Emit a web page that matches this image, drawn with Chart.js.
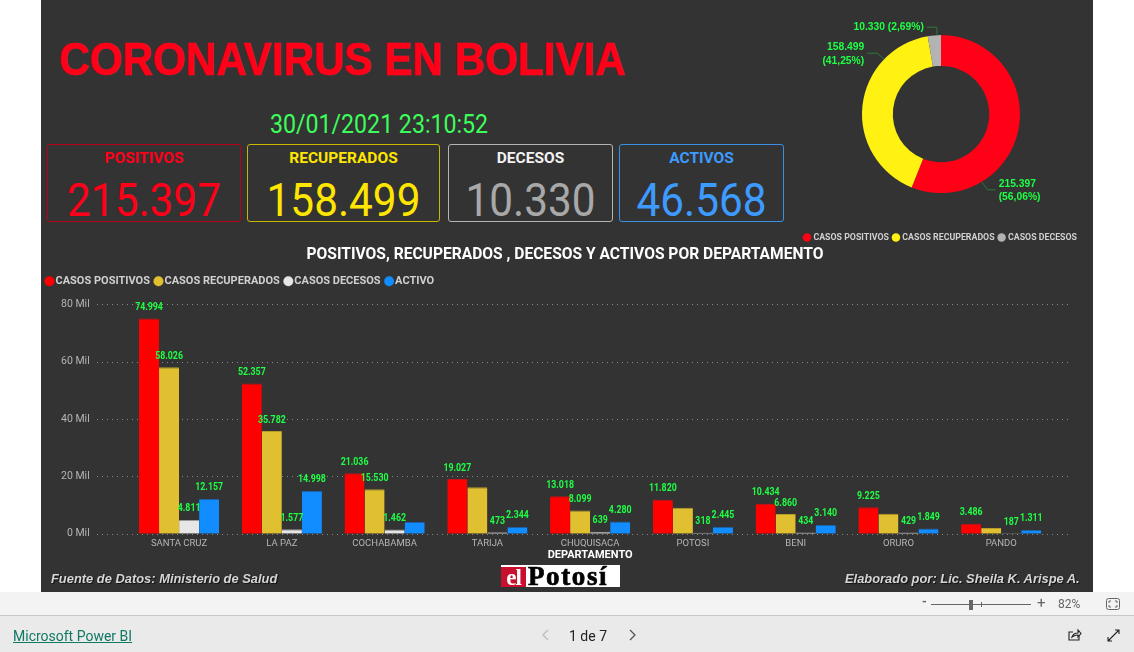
<!DOCTYPE html>
<html lang="es">
<head>
<meta charset="utf-8">
<title>Coronavirus en Bolivia</title>
<script src="https://cdn.jsdelivr.net/npm/chart.js@4"></script>
<style>
  * { box-sizing: border-box; }
  html, body { margin: 0; width: 1134px; height: 652px; overflow: hidden; background: #fff; font-family: Roboto, sans-serif; }
  .abs { position: absolute; white-space: nowrap; }
  #panel { position: absolute; left: 41px; top: 0; width: 1052px; height: 592px; background: #333; }
  #titulo { left: 59px; top: 31px; font: bold 46px/56px 'Liberation Sans', sans-serif; color: #ff0018; transform-origin: left; transform: scaleX(.917); -webkit-text-stroke: .5px #ff0018; }
  #fecha { left: 270px; top: 108px; font: 400 26px/32px Roboto, sans-serif; color: #3dff5c; transform-origin: left; transform: scaleX(.89); }
  .card { position: absolute; top: 144px; height: 78px; border: 1px solid; border-radius: 3px; text-align: center; }
  .card .lbl { position: absolute; left: 0; right: 0; top: 3px; font: bold 15.5px/20px Roboto, sans-serif; }
  .card .num { position: absolute; left: 0; right: 0; top: 29px; font: 400 46px/52px Roboto, sans-serif; transform: scaleX(.92); }
  #pie { position: absolute; left: 791px; top: 0; width: 300px; height: 252px; }
  #barras { position: absolute; left: 41px; top: 240px; width: 1048px; height: 338px; }
  .nota { font: italic bold 12.9px/16px 'Liberation Sans', sans-serif; color: #d6d6d6; text-shadow: 1px 1px 1px #111; }
  #logo { left: 501px; top: 565px; width: 119px; height: 22px; background: #fff; overflow: hidden; font: bold 27px/22px 'Liberation Serif', serif; color: #000; }
  #logo b { display: inline-block; width: 25px; height: 22px; background: #c8102e; color: #fff; text-align: center; font-size: 23px; letter-spacing: -1px; }
  #logo span { margin-left: 2px; letter-spacing: 1.6px; -webkit-text-stroke: .7px #000; }
  #zoombar { position: absolute; left: 0; top: 592px; width: 1134px; height: 24px; background: #f3f3f3; border-bottom: 1px solid #c8c8c8; color: #666; font-size: 12px; }
  #pie-bar { position: absolute; left: 0; top: 616px; width: 1134px; height: 36px; background: #eaeaea; }
  #pbi { left: 13px; top: 11px; font: 14px/18px Roboto, sans-serif; color: #117865; text-decoration: underline; }
  #pag { left: 569px; top: 11px; font: 14px/18px Roboto, sans-serif; color: #222; }
</style>
</head>
<body>
<div id="panel"></div>
<div class="abs" id="titulo">CORONAVIRUS EN BOLIVIA</div>
<div class="abs" id="fecha">30/01/2021 23:10:52</div>
<div id="cards"></div>
<canvas id="pie" width="300" height="252"></canvas>
<canvas id="barras" width="1048" height="338"></canvas>
<div class="abs nota" style="left:51px;top:571px">Fuente de Datos: Ministerio de Salud</div>
<div class="abs nota" style="left:845px;top:571px">Elaborado por: Lic. Sheila K. Arispe A.</div>
<div class="abs" id="logo"><b>el</b><span>Potosí</span></div>

<div id="zoombar">
  <div class="abs" style="left:922px;top:3px;font-weight:bold">-</div>
  <div class="abs" style="left:931px;top:12px;width:100px;height:1px;background:#666"></div>
  <div class="abs" style="left:969px;top:8px;width:4px;height:10px;background:#666"></div>
  <div class="abs" style="left:981px;top:10px;width:1px;height:5px;background:#666"></div>
  <div class="abs" style="left:1037px;top:2px;font-size:15px">+</div>
  <div class="abs" style="left:1058px;top:5px">82%</div>
  <svg class="abs" style="left:1106px;top:6px" width="14" height="12" fill="none" stroke="#666"><rect x=".5" y=".5" width="13" height="11" rx="2"/><path d="M3 5V3h2M9 3h2v2M11 7v2H9M5 9H3V7"/></svg>
</div>
<div id="pie-bar">
  <div class="abs" id="pbi">Microsoft Power BI</div>
  <svg class="abs" style="left:541px;top:13px" width="10" height="12" fill="none" stroke="#bbb" stroke-width="1.3"><path d="M7 1L2 6l5 5"/></svg>
  <div class="abs" id="pag">1 de 7</div>
  <svg class="abs" style="left:627px;top:13px" width="10" height="12" fill="none" stroke="#555" stroke-width="1.3"><path d="M3 1l5 5-5 5"/></svg>
  <svg class="abs" style="left:1068px;top:12px" width="14" height="14" fill="none" stroke="#222" stroke-width="1.1"><path d="M11 8v4H1V4h4"/><path d="M4 9c1-3 3-4 6-4V2l3 3.5L10 9V7c-2 0-4 .5-6 2z"/></svg>
  <svg class="abs" style="left:1107px;top:13px" width="13" height="13" fill="none" stroke="#222" stroke-width="1.1"><path d="M8 1h4v4M12 1L1 12M1 8v4h4"/></svg>
</div>

<script>
const categorias  = ['SANTA CRUZ', 'LA PAZ', 'COCHABAMBA', 'TARIJA', 'CHUQUISACA', 'POTOSI', 'BENI', 'ORURO', 'PANDO'];
const positivos   = [74994, 52357, 21036, 19027, 13018, 11820, 10434, 9225, 3486];
const recuperados = [58026, 35782, 15530, 16210, 8099, 9057, 6860, 6947, 1988];
const decesos     = [4811, 1577, 1462, 473, 639, 318, 434, 429, 187];
const activos     = [12157, 14998, 4044, 2344, 4280, 2445, 3140, 1849, 1311];

// Power BI esconde estas etiquetas para que no se pisen
const sinEtiquetaRecuperados = ['TARIJA', 'POTOSI', 'ORURO', 'PANDO'];
const sinEtiquetaActivos     = ['COCHABAMBA'];

const ticksY = [0, 20000, 40000, 60000, 80000];

const tortaNombres = ['CASOS POSITIVOS', 'CASOS RECUPERADOS', 'CASOS DECESOS'];
const tortaValores = [215397, 158499, 10330];
const tortaTextos  = [['215.397', '(56,06%)'], ['158.499', '(41,25%)'], ['10.330 (2,69%)']];

const tarjetas = [
  { nombre: 'POSITIVOS',   total: '215.397', left: 47,  width: 194, borde: '#b8001a', lbl: '#ff0018', num: '#ff0018' },
  { nombre: 'RECUPERADOS', total: '158.499', left: 247, width: 193, borde: '#c9b800', lbl: '#ffe600', num: '#ffe600' },
  { nombre: 'DECESOS',     total: '10.330',  left: 448, width: 165, borde: '#b5b5b5', lbl: '#f2f2f2', num: '#a8a8a8' },
  { nombre: 'ACTIVOS',     total: '46.568',  left: 619, width: 165, borde: '#3a8fe6', lbl: '#3d9bff', num: '#3d9bff' },
];

const FUENTE = 'Roboto, sans-serif';
const VERDE  = '#1fff45';

document.getElementById('cards').innerHTML = tarjetas.map(t =>
  `<div class="card" style="left:${t.left}px;width:${t.width}px;border-color:${t.borde}">
     <div class="lbl" style="color:${t.lbl}">${t.nombre}</div>
     <div class="num" style="color:${t.num}">${t.total}</div>
   </div>`).join('');

// ── Etiquetas verdes sobre las barras ──
const etiquetasBarras = {
  id: 'etiquetasBarras',
  afterDatasetsDraw(chart) {
    const ctx = chart.ctx;
    ctx.font = `bold 10px ${FUENTE}`;
    ctx.fillStyle = VERDE;
    ctx.textAlign = 'center';
    ctx.textBaseline = 'middle';
    chart.data.datasets.forEach((ds, i) => {
      chart.getDatasetMeta(i).data.forEach((bar, j) => {
        if ((ds.sinEtiqueta || []).includes(categorias[j])) return;
        ctx.save();
        ctx.translate(bar.x, bar.y - 11);
        ctx.scale(0.88, 1);
        ctx.fillText(ds.data[j].toLocaleString('de-DE'), 0, 0);
        ctx.restore();
      });
    });
  },
};

// ── Rejilla punteada: pasa de largo el área de las barras ──
const rejilla = {
  id: 'rejilla',
  beforeDatasetsDraw(chart) {
    const ctx = chart.ctx;
    const y = chart.scales.y;
    ctx.save();
    ctx.strokeStyle = '#8a8a8a';
    ctx.setLineDash([1, 4]);
    y.ticks.forEach(t => {
      const py = Math.round(y.getPixelForValue(t.value)) + 0.5;
      ctx.beginPath();
      ctx.moveTo(56, py);
      ctx.lineTo(1029, py);
      ctx.stroke();
    });
    ctx.restore();
  },
};

new Chart(document.getElementById('barras'), {
  type: 'bar',
  data: {
    labels: categorias,
    datasets: [
      { label: 'CASOS POSITIVOS',   data: positivos,   backgroundColor: '#ff0000', borderColor: '#c8101a' },
      { label: 'CASOS RECUPERADOS', data: recuperados, backgroundColor: '#e0c030', borderColor: '#b89c28', sinEtiqueta: sinEtiquetaRecuperados },
      { label: 'CASOS DECESOS',     data: decesos,     backgroundColor: '#e6e6e6', borderColor: '#9a9a9a' },
      { label: 'ACTIVO',            data: activos,     backgroundColor: '#118dff', borderColor: '#1c5fa8', sinEtiqueta: sinEtiquetaActivos },
    ],
  },
  plugins: [rejilla, etiquetasBarras],
  options: {
    responsive: false,
    animation: false,
    categoryPercentage: 0.78,
    barPercentage: 1,
    datasets: { bar: { borderWidth: { top: 1 }, borderSkipped: 'bottom' } },
    plugins: {
      title: {
        display: true,
        text: 'POSITIVOS, RECUPERADOS , DECESOS Y ACTIVOS POR DEPARTAMENTO',
        color: '#fff',
        font: { family: FUENTE, size: 15.6, weight: 'bold' },
        padding: { top: 6, bottom: 3 },
      },
      legend: {
        align: 'start',
        labels: {
          color: '#d0d0d0',
          font: { family: FUENTE, size: 11, weight: 'bold' },
          usePointStyle: true,
          pointStyle: 'circle',
          boxHeight: 7,
          boxWidth: 1,
          padding: 8,
        },
      },
      tooltip: { enabled: false },
    },
    scales: {
      x: {
        grid: { display: false, drawTicks: false },
        border: { display: false },
        ticks: { color: '#b5b5b5', font: { family: FUENTE, size: 9.5 }, padding: 4, maxRotation: 0 },
        title: { display: true, text: 'DEPARTAMENTO', color: '#fff', font: { family: FUENTE, size: 11, weight: 'bold' }, padding: { top: -4, bottom: 0 } },
      },
      y: {
        min: 0,
        max: 82609,
        afterFit(s) { s.width = 86.7; },
        afterBuildTicks(s) { s.ticks = ticksY.map(v => ({ value: v })); },
        grid: { display: false, drawTicks: false },
        border: { display: false },
        ticks: { color: '#b5b5b5', font: { family: FUENTE, size: 10.5 }, padding: 38, callback: v => `${v / 1000} Mil` },
      },
      // solo reserva el margen derecho, así el título queda centrado en el panel
      derecha: {
        position: 'right',
        afterFit(s) { s.width = 36.4; },
        grid: { display: false, drawTicks: false },
        border: { display: false },
        ticks: { display: false },
      },
    },
  },
});

// ── Etiquetas de la torta con su línea guía ──
// ang: grados desde las 12, sentido horario; el codo va en codoX/codoY relativo al punto de salida
const guias = [
  { ang: 149, codoX: 6, codoY: 8, finX: 14, lado: 'left' },
  { ang: -46, codoX: -7, codoY: -6, finX: -17, lado: 'right' },
  { ang: -3,  codoX: 0, codoY: -8, finX: -10, lado: 'right' },
];

const etiquetasTorta = {
  id: 'etiquetasTorta',
  afterDatasetsDraw(chart) {
    const ctx = chart.ctx;
    const arc = chart.getDatasetMeta(0).data[0];
    ctx.save();
    ctx.font = `bold 10.3px 'Liberation Sans', sans-serif`;
    ctx.textBaseline = 'middle';
    guias.forEach((g, i) => {
      const a  = g.ang * Math.PI / 180;
      const x0 = arc.x + Math.sin(a) * arc.outerRadius;
      const y0 = arc.y - Math.cos(a) * arc.outerRadius;
      const yc = y0 + g.codoY;
      ctx.strokeStyle = '#2a7a3a';
      ctx.beginPath();
      ctx.moveTo(x0, y0);
      ctx.lineTo(x0 + g.codoX, yc);
      ctx.lineTo(x0 + g.finX, yc);
      ctx.stroke();

      const lineas = tortaTextos[i];
      ctx.fillStyle = VERDE;
      ctx.textAlign = g.lado;
      const tx = x0 + g.finX + (g.lado === 'left' ? 3 : -3);
      const ty = lineas.length > 1 ? yc - 6 : yc;
      lineas.forEach((l, k) => ctx.fillText(l, tx, ty + k * 13.5));
    });
    ctx.restore();
  },
};

new Chart(document.getElementById('pie'), {
  type: 'doughnut',
  data: {
    labels: tortaNombres,
    datasets: [{
      data: tortaValores,
      backgroundColor: ['#ff0016', '#fff112', '#b3b3b3'],
      borderWidth: 0,
      radius: 79,
      cutout: '61%',
    }],
  },
  plugins: [etiquetasTorta],
  options: {
    responsive: false,
    animation: false,
    plugins: {
      legend: {
        position: 'bottom',
        labels: {
          color: '#d0d0d0',
          font: { family: FUENTE, size: 8.8, weight: 'bold' },
          usePointStyle: true,
          pointStyle: 'circle',
          boxHeight: 6,
          boxWidth: 4,
          padding: 5,
        },
      },
      tooltip: { enabled: false },
    },
  },
});
</script>
</body>
</html>
